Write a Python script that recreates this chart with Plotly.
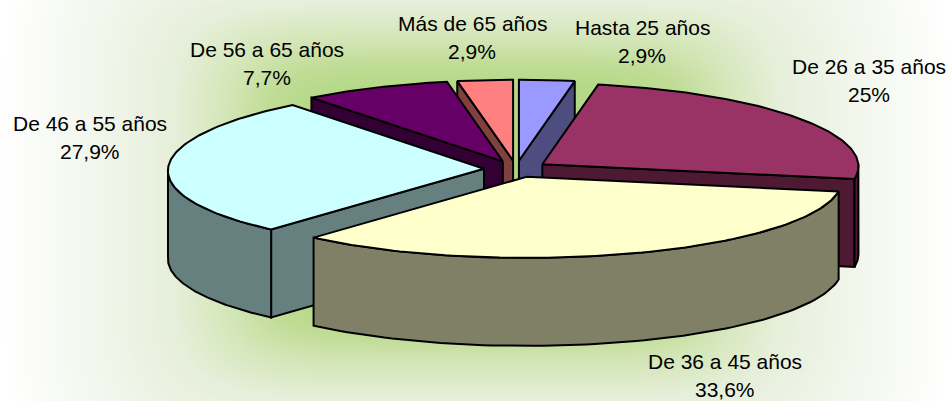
import numpy as np
import plotly.graph_objects as go

categories = ["Hasta 25 años", "De 26 a 35 años", "De 36 a 45 años",
              "De 46 a 55 años", "De 56 a 65 años", "Más de 65 años"]
shares = [2.9, 25, 33.6, 27.9, 7.7, 2.9]
top_colors = ["#9999FF", "#993366", "#FFFFCC", "#CCFFFF", "#660066", "#FF8080"]
wall_colors = ["#4D4D80", "#4D1933", "#808066", "#668080", "#330033", "#804040"]
label_centers = [(642, 41), (869, 80), (725, 375), (90, 137), (267, 63), (472, 37)]

W, H = 952, 401
CX, CY = 516, 169
RX, RY = 316, 81
TAPER = 0.025
EXPLODE = 32
DEPTH = 88

def project(theta_deg, radius, ox, oy, drop=0.0):
    t = np.radians(theta_deg)
    scale = 1 - TAPER * np.cos(t)
    return ox + RX * radius * np.sin(t) * scale, oy - RY * radius * np.cos(t) + drop

fig = go.Figure()

# backdrop: soft glow, fading to white at the edges
gx = np.linspace(0, W, 160)
gy = np.linspace(0, H, 80)
dx = np.abs(gx - W / 2)[None, :] / (W / 2)
dy = np.abs(gy - H / 2)[:, None] / (H / 2 / 0.65)
glow = (dx ** 6 + dy ** 6) ** (1 / 6)
fig.add_trace(go.Heatmap(
    x=gx, y=gy, z=glow, zmin=0, zmax=1, zsmooth="best", showscale=False, hoverinfo="skip",
    colorscale=[[0, "#B0D57E"], [0.36, "#B4D886"], [0.44, "#BFDC94"], [0.53, "#D4E6B8"],
                [0.64, "#E6EFDA"], [0.8, "#F2F6EC"], [1, "#FFFFFF"]]))

edges = np.concatenate([[0], np.cumsum(shares)]) / np.sum(shares) * 360
mids = (edges[:-1] + edges[1:]) / 2
order = np.argsort(-np.cos(np.radians(mids)), kind="stable")

def poly(xs, ys, fill):
    fig.add_trace(go.Scatter(
        x=np.append(xs, xs[0]), y=np.append(ys, ys[0]), mode="lines", fill="toself",
        fillcolor=fill, line=dict(color="black", width=2), hoverinfo="skip", showlegend=False))

for i in order:
    start, end, mid = edges[i], edges[i + 1], mids[i]
    ox = CX + EXPLODE * np.sin(np.radians(mid))
    oy = CY - EXPLODE * 0.26 * np.cos(np.radians(mid))
    # cut faces that look toward the viewer
    if np.sin(np.radians(start)) < 0:
        px, py = project(start, 1, ox, oy)
        poly(np.array([ox, px, px, ox]), np.array([oy, py, py + DEPTH, oy + DEPTH]), wall_colors[i])
    if np.sin(np.radians(end)) > 0:
        px, py = project(end, 1, ox, oy)
        poly(np.array([ox, px, px, ox]), np.array([oy, py, py + DEPTH, oy + DEPTH]), wall_colors[i])
    # outer rim, front half only
    a, b = max(start, 90), min(end, 270)
    if b > a:
        th = np.linspace(a, b, 80)
        tx, ty = project(th, 1, ox, oy)
        bx, by = project(th, 1, ox, oy, DEPTH)
        poly(np.concatenate([tx, bx[::-1]]), np.concatenate([ty, by[::-1]]), wall_colors[i])
    # top face
    th = np.linspace(start, end, 100)
    tx, ty = project(th, 1, ox, oy)
    poly(np.concatenate([[ox], tx]), np.concatenate([[oy], ty]), top_colors[i])

FONT = dict(family="Liberation Sans, Arial, sans-serif", size=21, color="black")
for name, val, (lx, ly) in zip(categories, shares, label_centers):
    pct = f"{val:g}".replace(".", ",") + "%"
    fig.add_annotation(x=lx, y=ly - 14, text=name, showarrow=False, font=FONT)
    fig.add_annotation(x=lx, y=ly + 14, text=pct, showarrow=False, font=FONT)

fig.update_layout(
    width=W, height=H, margin=dict(l=0, r=0, t=0, b=0), showlegend=False,
    paper_bgcolor="white", plot_bgcolor="white",
    xaxis=dict(range=[0, W], visible=False, fixedrange=True),
    yaxis=dict(range=[H, 0], visible=False, fixedrange=True))

fig.write_html("out.html", config={"displayModeBar": False},
               post_script="document.body.style.margin='0';")
